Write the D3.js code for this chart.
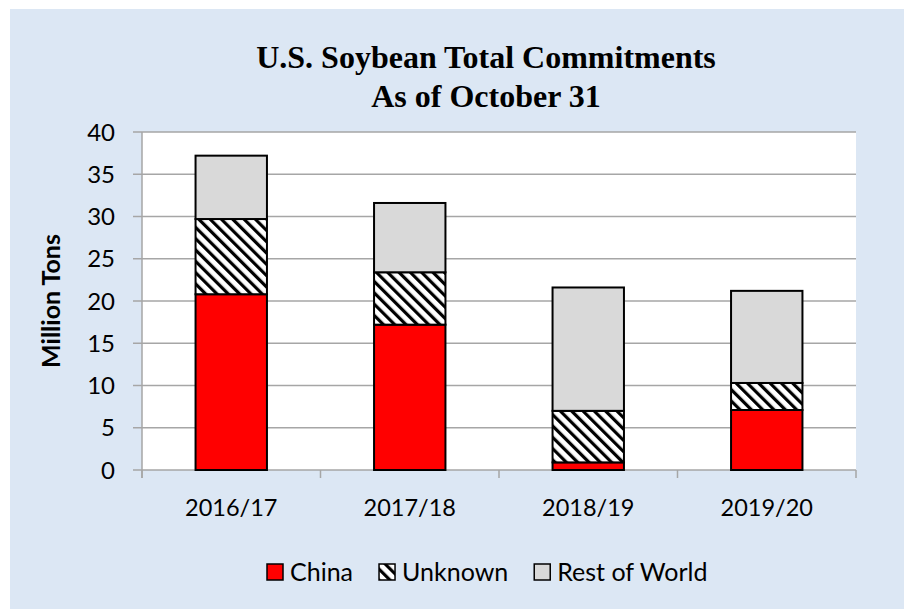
<!DOCTYPE html>
<html>
<head>
<meta charset="utf-8">
<script src="https://cdn.jsdelivr.net/npm/d3@7"></script>
<style>
  body { margin: 0; background: #ffffff; }
  svg { display: block; }
</style>
</head>
<body>
<script>
'use strict';

// chart data
const seasons = ["2016/17", "2017/18", "2018/19", "2019/20"];
const china = [20.8, 17.2, 0.9, 7.1];
const unknown = [8.9, 6.2, 6.1, 3.2];
const restOfWorld = [7.5, 8.2, 14.6, 10.9];
const seriesNames = ["China", "Unknown", "Rest of World"];
const yTicks = [0, 5, 10, 15, 20, 25, 30, 35, 40];

(function () {
  const W = 904, H = 609;
  const plot = { left: 142, right: 856, top: 132, bottom: 470 };
  const labelFont = "Lato, 'Open Sans', sans-serif";

  const svg = d3.select("body").append("svg")
    .attr("width", W)
    .attr("height", H);

  // hatch pattern for the Unknown series
  const defs = svg.append("defs");
  const pat = defs.append("pattern")
    .attr("id", "hatch")
    .attr("patternUnits", "userSpaceOnUse")
    .attr("width", 8)
    .attr("height", 8)
    .attr("patternTransform", "rotate(-45)");
  pat.append("rect").attr("width", 8).attr("height", 8).attr("fill", "#fff");
  pat.append("rect").attr("width", 3.2).attr("height", 8).attr("fill", "#000");

  // chart background
  svg.append("rect")
    .attr("x", 10).attr("y", 9)
    .attr("width", W - 10).attr("height", H - 9)
    .attr("fill", "#DCE7F4");

  svg.append("rect")
    .attr("x", plot.left).attr("y", plot.top)
    .attr("width", plot.right - plot.left)
    .attr("height", plot.bottom - plot.top)
    .attr("fill", "#fff");

  // scales
  const x = d3.scaleBand()
    .domain(seasons)
    .range([plot.left, plot.right])
    .paddingInner(0.6)
    .paddingOuter(0.3);

  const y = d3.scaleLinear()
    .domain([0, 40])
    .range([plot.bottom, plot.top]);

  // gridlines + y ticks
  svg.append("g").selectAll("line")
    .data(yTicks)
    .enter()
    .append("line")
    .attr("x1", plot.left - 9)
    .attr("x2", plot.right)
    .attr("y1", (d) => y(d))
    .attr("y2", (d) => y(d))
    .attr("stroke", "#A6A6A6")
    .attr("stroke-width", 1.5);

  // y axis line
  svg.append("line")
    .attr("x1", plot.left).attr("x2", plot.left)
    .attr("y1", plot.top).attr("y2", plot.bottom + 8)
    .attr("stroke", "#A6A6A6")
    .attr("stroke-width", 1.5);

  // x axis ticks at category boundaries
  const bounds = seasons.map((s) => x(s) - x.step() * x.paddingOuter());
  bounds.push(plot.right);
  svg.append("g").selectAll("line")
    .data(bounds)
    .enter()
    .append("line")
    .attr("x1", (d) => d).attr("x2", (d) => d)
    .attr("y1", plot.bottom).attr("y2", plot.bottom + 8)
    .attr("stroke", "#A6A6A6")
    .attr("stroke-width", 1.5);

  // y tick labels
  svg.append("g").selectAll("text")
    .data(yTicks)
    .enter()
    .append("text")
    .attr("x", plot.left - 27)
    .attr("y", (d) => y(d))
    .attr("dy", "0.36em")
    .attr("text-anchor", "end")
    .style("font-family", labelFont)
    .style("font-size", "24px")
    .attr("fill", "#000")
    .text((d) => d);

  // x labels
  svg.append("g").selectAll("text")
    .data(seasons)
    .enter()
    .append("text")
    .attr("x", (d) => x(d) + x.bandwidth() / 2)
    .attr("y", plot.bottom + 46)
    .attr("text-anchor", "middle")
    .style("font-family", labelFont)
    .style("font-size", "23.5px")
    .attr("fill", "#000")
    .text((d) => d);

  // stacked bars
  const rows = seasons.map((s, i) => ({
    season: s, China: china[i], Unknown: unknown[i], "Rest of World": restOfWorld[i]
  }));
  const stacked = d3.stack().keys(seriesNames)(rows);
  const fills = { "China": "#FF0000", "Unknown": "url(#hatch)", "Rest of World": "#D9D9D9" };

  svg.append("g").selectAll("g")
    .data(stacked)
    .enter()
    .append("g")
    .attr("fill", (d) => fills[d.key])
    .selectAll("rect")
    .data((d) => d)
    .enter()
    .append("rect")
    .attr("x", (d) => x(d.data.season))
    .attr("y", (d) => y(d[1]))
    .attr("width", x.bandwidth())
    .attr("height", (d) => y(d[0]) - y(d[1]))
    .attr("stroke", "#000")
    .attr("stroke-width", 2);

  // title
  const title = svg.append("text")
    .attr("x", 486)
    .attr("text-anchor", "middle")
    .style("font-family", "'Liberation Serif', 'Times New Roman', serif")
    .style("font-weight", "bold")
    .style("font-size", "32px")
    .attr("fill", "#000");
  title.append("tspan").attr("x", 486).attr("y", 68).text("U.S. Soybean Total Commitments");
  title.append("tspan").attr("x", 486).attr("y", 107).text("As of October 31");

  // y axis title
  svg.append("text")
    .attr("transform", "translate(60, " + ((plot.top + plot.bottom) / 2) + ")rotate(-90)")
    .attr("text-anchor", "middle")
    .style("font-family", labelFont)
    .style("font-weight", "bold")
    .style("font-size", "25px")
    .attr("fill", "#000")
    .text("Million Tons");

  // legend
  const legend = svg.append("g");
  let lx = 267;
  seriesNames.forEach((name) => {
    legend.append("rect")
      .attr("x", lx).attr("y", 564)
      .attr("width", 16).attr("height", 16)
      .attr("fill", fills[name])
      .attr("stroke", "#000")
      .attr("stroke-width", 1.5);
    const t = legend.append("text")
      .attr("x", lx + 23)
      .attr("y", 581)
      .style("font-family", labelFont)
      .style("font-size", "25px")
      .attr("fill", "#000")
      .text(name);
    lx += 23 + t.node().getComputedTextLength() + 26;
  });
})();
</script>
</body>
</html>
